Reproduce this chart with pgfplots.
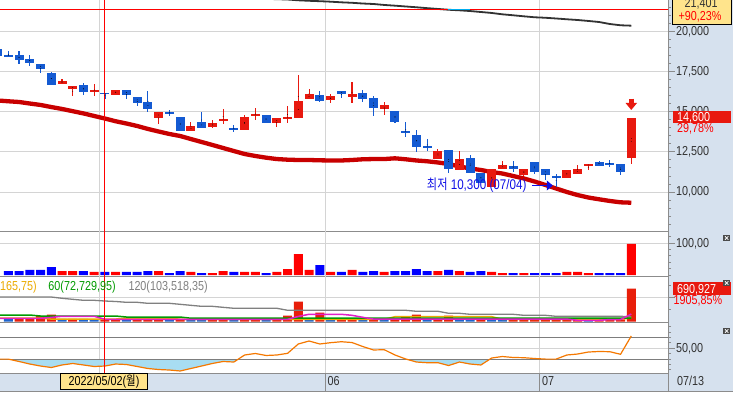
\documentclass[border=0pt]{standalone}
\usepackage{fontspec}
\setmainfont{Liberation Sans}[FakeStretch=0.83]
\newfontfamily\kr{Noto Sans CJK KR}[FakeStretch=0.8]
\usepackage{pgfplots}
\usepackage{pgfplotstable}
\pgfplotsset{compat=1.18}
\usetikzlibrary{arrows.meta}

\definecolor{cRed}{RGB}{232,25,15}
\definecolor{cBlue}{RGB}{20,90,210}
\definecolor{vRed}{RGB}{255,0,0}
\definecolor{vBlue}{RGB}{0,0,255}
\definecolor{maRed}{RGB}{200,0,0}
\definecolor{topGray}{RGB}{50,50,50}
\definecolor{gridgray}{RGB}{212,212,212}
\definecolor{axisgray}{RGB}{140,140,140}
\definecolor{panelblue}{RGB}{214,225,238}
\definecolor{labgray}{RGB}{50,50,50}
\definecolor{tagyellow}{RGB}{255,228,140}
\definecolor{amber}{RGB}{235,170,0}
\definecolor{mgreen}{RGB}{0,155,0}
\definecolor{mgray}{RGB}{128,128,128}
\definecolor{mmag}{RGB}{225,30,200}
\definecolor{oscorange}{RGB}{245,120,0}
\definecolor{oscfill}{RGB}{168,221,242}
\definecolor{oscline}{RGB}{125,125,125}
\definecolor{pRed}{RGB}{232,30,10}
\definecolor{pBlue}{RGB}{30,100,205}
\definecolor{annblue}{RGB}{16,16,230}
\definecolor{iconGray}{RGB}{75,75,75}

\newcommand\lf{\fontsize{13bp}{14bp}\selectfont}
\newcommand\af{\fontsize{14bp}{15bp}\selectfont}

% ---------- price candles (open high low close) ----------
\pgfplotstableread{
i o h l c
5 16750 17050 16750 16950
6 16450 16600 16000 16600
8 16270 16750 16000 16370
10 16080 16400 16080 16380
14 14630 15000 14250 15000
17 13810 14380 13810 14130
19 14060 14500 14000 14310
20 14480 15190 14250 14550
22 13880 14810 13880 14690
23 14750 15250 14500 14880
25 14310 14630 14060 14630
26 14600 15380 14310 14670
27 14630 17310 14630 15690
28 15810 16440 15810 16130
30 15750 16125 15560 16000
32 15960 16880 15580 16150
35 15190 15630 14830 15420
40 12060 12700 12060 12560
42 11380 12540 11380 12060
45 10340 11420 10340 11420
46 11460 11940 11460 11690
48 11080 11450 11000 11440
52 10880 11380 10880 11380
53 11140 11690 11140 11440
54 11650 11720 11380 11720
58 12100 14600 11750 14600
}\redc
\pgfplotstableread{
i o h l c
-1 18940 19060 18440 18500
0 18560 18790 18420 18490
1 18560 18810 18000 18270
2 18310 18560 17880 18080
3 18000 18000 17460 17710
4 17440 17500 16700 16710
7 16690 16810 16060 16270
9 16210 16210 15830 16110
11 16380 16380 15810 16060
12 15940 15940 15380 15580
13 15630 16310 15000 15190
15 15000 15130 14750 14890
16 14690 14690 13810 13810
18 14380 15000 14000 14000
21 14000 14190 13750 13880
24 14810 14810 14310 14310
29 16060 16310 15630 15690
31 16310 16310 15890 16130
33 16170 16380 15630 15790
34 15860 16000 14770 15270
36 15060 15060 14290 14380
37 13800 14360 13420 13730
38 13560 13880 12520 12830
39 12870 13310 12580 12800
41 12630 12630 11190 11440
43 12130 12310 11190 11190
44 11190 11190 10580 10580
47 11630 11940 11270 11440
49 11880 11880 11130 11250
50 11440 11440 10750 11080
51 10970 11130 10300 10900
55 11880 11940 11650 11650
56 11800 12000 11560 11730
57 11750 11750 11060 11250
}\bluec
% ---------- moving averages on price ----------
\pgfplotstableread{
i v
-1 15720
0 15670
1 15625
2 15530
3 15440
4 15310
5 15190
6 15050
7 14910
8 14750
9 14590
10 14420
11 14280
12 14125
13 13940
14 13780
15 13625
16 13500
17 13310
18 13125
19 12940
20 12750
21 12560
22 12375
23 12250
24 12145
25 12060
26 12020
27 12000
28 12000
29 11980
30 11970
31 11970
32 12000
33 12045
34 12060
35 12060
36 12105
37 12045
38 11970
39 11920
40 11845
41 11750
42 11595
43 11470
44 11375
45 11250
46 11155
47 11000
48 10845
49 10655
50 10440
51 10220
52 10000
53 9810
54 9655
55 9545
56 9440
57 9355
58 9330
}\mared
\pgfplotstableread{
i v
20 22190
22 22120
24 22070
26 22030
27 21980
28 21950
29 21925
30 21895
31 21855
32 21825
33 21780
34 21750
35 21690
36 21645
37 21595
38 21545
39 21490
40 21440
41 21390
42 21355
43 21310
44 21250
45 21190
46 21105
47 21045
48 20980
49 20920
50 20890
51 20845
52 20795
53 20750
54 20690
55 20625
56 20500
57 20420
58 20395
}\magray
% ---------- panel 2 ----------
\pgfplotstableread{
i v
5 12.6
6 12.6
8 9.5
10 9.5
14 12.6
17 9.5
19 6.3
20 12.6
22 9.5
23 9.5
25 9.5
26 18.9
27 66.2
28 15.8
30 9.5
32 15.8
35 9.5
40 12.6
42 12.6
45 9.5
46 6.3
48 6.3
52 9.5
53 9.5
54 6.3
58 97.8
}\vred
\pgfplotstableread{
i v
0 12.6
1 12.6
2 15.8
3 15.8
4 25.2
7 12.6
9 9.5
11 9.5
12 9.5
13 12.6
15 6.3
16 12.6
18 6.3
21 9.5
24 6.3
29 31.5
31 9.5
33 9.5
34 12.6
36 12.6
37 12.6
38 18.9
39 12.6
41 15.8
43 9.5
44 12.6
47 6.3
49 6.3
50 6.3
51 6.3
55 6.3
56 6.3
57 6.3
}\vblue
% ---------- panel 3 ----------
\pgfplotstableread{
i v
1 60000
2 75000
3 119000
4 147000
6 60000
9 55000
10 55000
12 55000
13 60000
14 60000
16 60000
19 50000
20 60000
22 55000
23 55000
25 55000
26 126000
27 419000
29 188000
31 55000
32 75000
34 60000
36 60000
37 105000
38 147000
40 60000
41 126000
44 60000
47 50000
48 50000
49 50000
50 50000
51 50000
52 55000
53 55000
55 50000
56 50000
57 50000
58 690927
}\tred
\pgfplotstableread{
i v
0 60000
5 60000
7 60000
8 55000
11 55000
15 50000
17 55000
18 50000
21 55000
24 50000
28 60000
30 55000
33 55000
35 55000
39 60000
42 60000
43 55000
45 55000
46 50000
54 50000
}\tblue
% ---------- oscillator ----------
\pgfplotstableread{
i v
-1 30.0
0 30.0
1 25.6
2 20.9
3 17.2
4 14.4
5 19.1
6 21.9
7 19.1
8 16.3
9 17.2
10 20.9
11 20.0
12 16.3
13 12.6
14 10.7
15 9.8
16 8.0
17 12.6
18 17.2
19 21.9
20 25.6
21 24.6
22 37.6
23 40.4
24 36.7
25 37.6
26 40.7
27 58.0
28 63.5
29 58.0
30 60.4
31 62.2
32 60.7
33 53.3
34 46.9
35 47.4
36 37.6
37 30.2
38 24.6
39 23.3
40 23.3
41 18.1
42 24.6
43 20.9
44 19.1
45 32.0
46 34.8
47 33.0
48 32.6
49 31.1
50 30.0
51 30.0
52 37.6
53 39.4
54 43.1
55 44.1
56 43.7
57 38.9
58 72.8
}\osc

\pgfplotsset{panel/.style={
  scale only axis, anchor=south west, width=668bp,
  xmin=-0.773, xmax=61.42,
  axis x line*=bottom, axis y line*=right,
  axis line style={draw=axisgray, line width=1bp},
  xtick={8.5,29.5,49.5}, xticklabels={}, xtick style={draw=none},
  xmajorgrids, ymajorgrids,
  major grid style={draw=gridgray, line width=1bp},
  tick align=outside, major tick length=6.7bp, minor tick length=3bp,
  ytick style={draw=axisgray, line width=1bp},
  scaled y ticks=false,
  yticklabel style={font=\lf, text=labgray, xshift=-2bp, /pgf/number format/1000 sep={,}, /pgf/number format/assume math mode=true},
},
dec2/.style={yticklabel style={/pgf/number format/fixed, /pgf/number format/fixed zerofill, /pgf/number format/precision=2, /pgf/number format/use comma}},
candle/.style={only marks, mark=*, mark options={draw=none, fill=none}, mark size=0.1pt,
  error bars/.cd, y dir=both, y explicit, error mark=none}
}

\begin{document}
\begin{tikzpicture}[x=1bp,y=1bp]
\useasboundingbox (0,0) rectangle (733,392);
\clip (0,0) rectangle (733,392);
\fill[white] (0,0) rectangle (733,392);
\fill[panelblue] (668,0) rectangle (733,392);
\fill[panelblue] (0,0) rectangle (733,19);

% ================= main price panel =================
\begin{axis}[panel, at={(0bp,161bp)}, height=231bp, ymin=7562.5, ymax=22000,
  ytick={10000,12500,15000,17500,20000}, minor ytick={8000,8500,...,21500}]
\addplot[topGray, line width=1.8bp] table[x=i,y=v] {\magray};
\addplot[vRed, line width=1bp] coordinates {(-2,21401) (63,21401)};
\addplot[cyan, line width=1.3bp] coordinates {(40.9,21401) (42.95,21401)};
\addplot[maRed, line width=4.3bp] table[x=i,y=v] {\mared};
% wicks
\addplot[candle, error bar style={line width=1.1bp, draw=cRed}]
  table[x=i, y expr=(\thisrow{h}+\thisrow{l})/2, y error expr=(\thisrow{h}-\thisrow{l})/2] {\redc};
\addplot[candle, error bar style={line width=1.1bp, draw=cBlue}]
  table[x=i, y expr=(\thisrow{h}+\thisrow{l})/2, y error expr=(\thisrow{h}-\thisrow{l})/2] {\bluec};
% bodies
\addplot[candle, error bar style={line width=9bp, draw=cRed}]
  table[x=i, y expr=(\thisrow{o}+\thisrow{c})/2, y error expr=abs(\thisrow{c}-\thisrow{o})/2] {\redc};
\addplot[candle, error bar style={line width=9bp, draw=cBlue}]
  table[x=i, y expr=(\thisrow{o}+\thisrow{c})/2, y error expr=abs(\thisrow{c}-\thisrow{o})/2] {\bluec};
\addplot[vRed, line width=1.3bp] coordinates {(8.957,7000) (8.957,23000)};
\addplot[annblue, line width=1bp, -{Triangle[length=6bp,width=10bp]}] coordinates {(48.8,10406) (50.69,10406)};
\addplot[cRed, line width=4.5bp, -{Triangle[length=7bp,width=11bp]}] coordinates {(58,15830) (58,15125)};
\node[anchor=base west, inner sep=0, text=annblue, font=\af] at (axis cs:38.96,10169) {{\kr 최저} 10,300 (07/04)};
\end{axis}

% ================= panel 2 =================
\begin{axis}[panel, dec2, at={(0bp,116bp)}, height=45bp, ymin=-3.15, ymax=138.8,
  ytick={100}, minor ytick={0,20,40,60,80,120}]
\addplot[ybar, bar width=9bp, bar shift=0pt, fill=vRed, draw=none] table[x=i,y=v] {\vred};
\addplot[ybar, bar width=9bp, bar shift=0pt, fill=vBlue, draw=none] table[x=i,y=v] {\vblue};
\addplot[vRed, line width=1.3bp] coordinates {(8.957,-10) (8.957,200)};
\end{axis}

% ================= panel 3 =================
\begin{axis}[panel, at={(0bp,69.5bp)}, height=46.5bp, ymin=-16750, ymax=956820,
  ytick={500000}, yticklabels={}, minor ytick={250000,750000}]
\addplot[ybar, bar width=9bp, bar shift=0pt, fill=pRed, draw=none] table[x=i,y=v] {\tred};
\addplot[ybar, bar width=9bp, bar shift=0pt, fill=pBlue, draw=none] table[x=i,y=v] {\tblue};
\addplot[mgray, line width=1.3bp] coordinates {(-1,517000)(4,517000)(5,490000)(6,469000)(7,448000)(8,448000)(9,433000)(10,423000)(11,406000)(12,406000)(13,385000)(15,385000)(16,364000)(17,343000)(18,322000)(19,322000)(20,301000)(21,281000)(25,281000)(26,239000)(37,239000)(38,218000)(40,218000)(41,176000)(42,176000)(43,155000)(47,155000)(48,134000)(50,134000)(51,113000)(57,113000)(58,103518)};
\addplot[amber, line width=1.5bp] coordinates {(-1,77000)(3,77000)(4,55000)(10,55000)(11,77000)(15,77000)(16,50000)(35,50000)(36,105000)(45,105000)(46,50000)(57,50000)(58,80000)};
\addplot[mgreen, line width=1.5bp] coordinates {(-1,140000)(2,140000)(3,119000)(10,119000)(11,98000)(16,98000)(17,73000)(58,72730)};
\addplot[mmag, line width=1.5bp] coordinates {(-1,71000)(3,71000)(4,90000)(5,113000)(8,113000)(9,50000)(26,50000)(27,110000)(28,155000)(31,155000)(32,134000)(33,92000)(34,55000)(52,55000)(53,30000)(55,30000)(56,45000)(57,45000)(58,160000)};
\addplot[vRed, line width=1.3bp] coordinates {(8.957,-100000) (8.957,2000000)};
\end{axis}

% ================= panel 4 =================
\begin{axis}[panel, dec2, at={(0bp,19bp)}, height=50.5bp, ymin=4.26, ymax=97.78,
  ytick={50}, minor ytick={10,20,30,40,60,70,80,90}]
\addplot[fill=oscfill, draw=none, forget plot] coordinates {(-1,30)(0,30)(1,25.6)(2,20.9)(3,17.2)(4,14.4)(5,19.1)(6,21.9)(7,19.1)(8,16.3)(9,17.2)(10,20.9)(11,20.0)(12,16.3)(13,12.6)(14,10.7)(15,9.8)(16,8.0)(17,12.6)(18,17.2)(19,21.9)(20,25.6)(21,24.6)(21.415,30)};
\addplot[fill=oscfill, draw=none, forget plot] coordinates {(37.036,30)(38,24.6)(39,23.3)(40,23.3)(41,18.1)(42,24.6)(43,20.9)(44,19.1)(44.845,30)};
\addplot[oscline, line width=1bp] coordinates {(-2,30) (63,30)};
\addplot[oscline, line width=1bp] coordinates {(-2,70) (63,70)};
\addplot[oscorange, line width=1.2bp] table[x=i,y=v] {\osc};
\addplot[vRed, line width=1.3bp] coordinates {(8.957,0) (8.957,100)};
\end{axis}

% ================= labels and frame pieces =================
\draw[axisgray, line width=1bp] (0,1) -- (733,1);
\draw[axisgray, line width=1bp] (325.1,1) -- (325.1,19);
\draw[axisgray, line width=1bp] (539.9,1) -- (539.9,19);
\draw[axisgray, line width=1bp] (668,0) -- (668,19);

% top yellow tag
\draw[fill=tagyellow, draw=black, line width=1bp] (672.7,367.7) rectangle (731,394);
\node[anchor=base, inner sep=0, text=labgray, font=\lf] at (701,384.7) {21,401};
\node[anchor=base, inner sep=0, text=vRed, font=\lf] at (700,372) {+90,23\%};
% current price tag
\fill[cRed] (672.7,268.7) rectangle (731,281);
\node[anchor=base west, inner sep=0, text=white, font=\lf] at (677,270.3) {14,600};
\node[anchor=base west, inner sep=0, text=vRed, font=\lf] at (677,259.3) {29,78\%};
% panel 3 tag
\fill[cRed] (672.7,97) rectangle (730.7,109.7);
\node[anchor=base west, inner sep=0, text=white, font=\lf] at (677,99) {690,927};
\node[anchor=base west, inner sep=0, text=vRed, font=\lf] at (673.3,87.7) {1905,85\%};
% panel 3 legend
\node[anchor=base west, inner sep=0, text=amber, font=\lf] at (0,102) {165,75)};
\node[anchor=base west, inner sep=0, text=mgreen, font=\lf] at (48.3,102) {60(72,729,95)};
\node[anchor=base west, inner sep=0, text=mgray, font=\lf] at (128.3,102) {120(103,518,35)};
% close icons
\foreach \yy in {154,109,61}{
  \fill[iconGray] (723.3,\yy-3.3) rectangle (730,\yy+3.3);
  \draw[white, line width=0.8bp] (725,\yy-1.7) -- (728.3,\yy+1.7) (725,\yy+1.7) -- (728.3,\yy-1.7);
}
% date strip
\draw[fill=tagyellow, draw=black, line width=1bp] (60,2.7) rectangle (147.7,18.7);
\node[anchor=base, inner sep=0, text=black, font=\lf] at (104,6.5) {2022/05/02({\kr 월})};
\node[anchor=base west, inner sep=0, text=labgray, font=\lf] at (327.5,6.5) {06};
\node[anchor=base west, inner sep=0, text=labgray, font=\lf] at (542,6.5) {07};
\node[anchor=base west, inner sep=0, text=labgray, font=\lf] at (677,6.5) {07/13};
\end{tikzpicture}
\end{document}
